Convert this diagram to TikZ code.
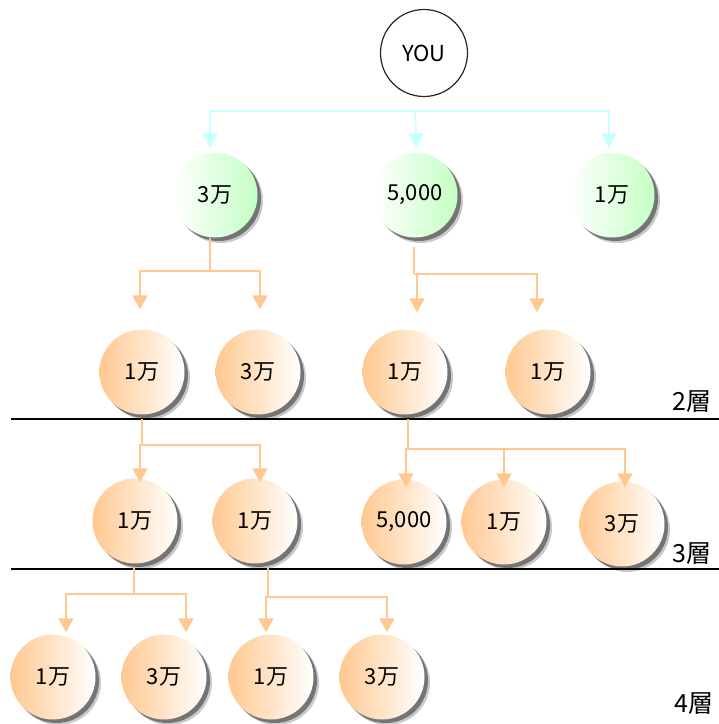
\documentclass[tikz,border=0pt]{standalone}
\usepackage{fontspec}
\setmainfont{Noto Sans CJK JP}
\usetikzlibrary{arrows.meta,shadows}
\definecolor{og}{HTML}{FFC890}
\definecolor{gr}{HTML}{C4FFC4}
\definecolor{bl}{HTML}{C8FFFF}
\tikzset{
  ball/.style={circle, minimum size=85pt, inner sep=0pt, font=\fontsize{22}{22}\selectfont,
    drop shadow={shadow xshift=5.5pt,shadow yshift=-5.5pt,fill=black!30,opacity=0.7},
    drop shadow={shadow xshift=3.5pt,shadow yshift=-3.5pt,fill=black!60,opacity=0.85}},
  oball/.style={ball, left color=og, right color=white},
  gball/.style={ball, left color=white, right color=gr},
  youball/.style={circle, minimum size=87pt, inner sep=0pt, draw=black!85, line width=1.2pt, fill=white, font=\fontsize{22}{22}\selectfont},
  oline/.style={draw=og, line width=1.6pt},
  oarrow/.style={oline, -{Triangle[width=15pt,length=14pt]}},
  bline/.style={draw=bl, line width=1.6pt},
  barrow/.style={bline, -{Triangle[width=15pt,length=15pt]}},
  rule/.style={draw=black, line width=1.8pt},
  layer/.style={font=\fontsize{25}{25}\selectfont, inner sep=0pt, anchor=east}
}
\begin{document}
\begin{tikzpicture}[x=1pt,y=-1pt]
\useasboundingbox (0,0) rectangle (719,724);
\clip (0,0) rectangle (719,724);
% nodes
\node[youball] (you) at (424,53) {YOU};
\node[gball] (g1) at (215,195) {3万};
\node[gball] (g2) at (415,195) {5,000};
\node[gball] (g3) at (612,195) {1万};
\node[oball] (o21) at (142,372) {1万};
\node[oball] (o22) at (258,372) {3万};
\node[oball] (o23) at (405,372) {1万};
\node[oball] (o24) at (548,372) {1万};
\node[oball] (o31) at (135,521) {1万};
\node[oball] (o32) at (255,521) {1万};
\node[oball] (o33) at (404,522) {5,000};
\node[oball] (o34) at (504,522) {1万};
\node[oball] (o35) at (622,524) {3万};
\node[oball] (o41) at (53,677) {1万};
\node[oball] (o42) at (164,677) {3万};
\node[oball] (o43) at (271,677) {1万};
\node[oball] (o44) at (382,677) {3万};
% rules and layer labels
\coordinate (r2l) at (11,419); \coordinate (r2r) at (719,419);
\coordinate (r3l) at (11,569); \coordinate (r3r) at (719,569);
\draw[rule] (r2l) -- (r2r);
\draw[rule] (r3l) -- (r3r);
\node[layer] (l2) at (712,402) {2層};
\node[layer] (l3) at (712,554) {3層};
\node[layer] (l4) at (714,704) {4層};
% blue connectors
\coordinate (bus) at (210,111);
\draw[bline] (bus) -- ([xshift=-3pt]g3.north |- bus);
\draw[barrow, shorten >=4pt] (bus) -- ([xshift=-5pt]g1.north);
\draw[barrow, shorten >=4pt] (g2.north |- bus) -- ([xshift=2pt]g2.north);
\draw[barrow, shorten >=4pt] ([xshift=-3pt]g3.north |- bus) -- ([xshift=-3pt]g3.north);
% g1 -> o21, o22
\coordinate (j1) at (210,271);
\draw[oline] ([xshift=-5pt]g1.south) -- (j1);
\draw[oarrow, shorten >=20pt] (j1) -| ([xshift=-2pt]o21.north);
\draw[oarrow, shorten >=20pt] (j1) -| ([xshift=2pt]o22.north);
% g2 -> o23, o24
\coordinate (j2) at (414,274);
\draw[oline, shorten <=9pt] ([xshift=-1pt]g2.south) -- (j2);
\draw[oarrow, shorten >=17pt] (j2) -| ([xshift=12pt]o23.north);
\draw[oarrow, shorten >=17pt] (j2) -| ([xshift=-11pt]o24.north);
% o21 -> o31, o32
\coordinate (j3) at (142,445);
\draw[oline, shorten <=4pt] (o21.south) -- (j3);
\draw[oarrow, shorten >=-4pt] (j3) -| ([xshift=5pt]o31.north);
\draw[oarrow, shorten >=-4pt] (j3) -| ([xshift=5pt]o32.north);
% o23 -> o33, o34, o35
\coordinate (j4) at (408,449);
\draw[oline, shorten <=4pt] ([xshift=3pt]o23.south) -- (j4);
\draw[oarrow, shorten >=-8pt] (j4) -| ([xshift=2pt]o33.north);
\draw[oarrow, shorten >=-8pt] (j4) -| (o34.north);
\draw[oarrow, shorten >=-6pt] (j4) -| ([xshift=3pt]o35.north);
% o31 -> o41, o42
\coordinate (j5) at (134,594);
\draw[oline, shorten <=4pt] ([xshift=-1pt]o31.south) -- (j5);
\draw[oarrow, shorten >=2pt] (j5) -| ([xshift=13pt]o41.north);
\draw[oarrow, shorten >=2pt] (j5) -| ([xshift=22pt]o42.north);
% o32 -> o43, o44
\coordinate (j6) at (268,597);
\draw[oline, shorten <=4pt] ([xshift=13pt]o32.south) -- (j6);
\draw[oarrow, shorten >=2pt] (j6) -| ([xshift=-5pt]o43.north);
\draw[oarrow, shorten >=2pt] (j6) -| ([xshift=5pt]o44.north);
\end{tikzpicture}
\end{document}
